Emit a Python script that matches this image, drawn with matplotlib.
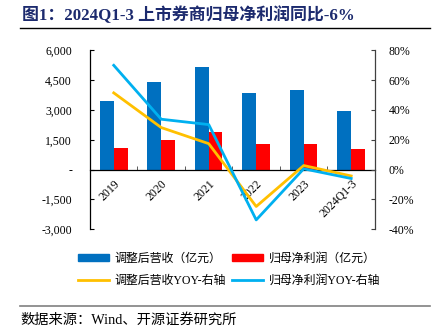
import numpy as np
import matplotlib.pyplot as plt
from matplotlib.patches import Patch
from matplotlib.lines import Line2D
from matplotlib.ticker import FuncFormatter, FixedLocator

years = ['2019', '2020', '2021', '2022', '2023', '2024Q1-3']
revenue = [3430, 4400, 5165, 3880, 4000, 2940]        # 调整后营收 (亿元)
profit = [1100, 1470, 1910, 1265, 1265, 1050]         # 归母净利润 (亿元)
revenue_yoy = [51.5, 28.2, 17.4, -24.8, 2.7, -4.3]    # %
profit_yoy = [70.0, 33.8, 30.2, -33.8, 0.5, -6.0]     # %

mixed = ['Liberation Serif', 'Noto Sans CJK SC', 'DejaVu Sans']
plt.rcParams['font.family'] = mixed

c_blue = '#0070C0'
c_red = '#FF0000'
c_yellow = '#FFC000'
c_cyan = '#00B0F0'

fig = plt.figure(figsize=(4.38, 3.34), dpi=100)
ax = fig.add_axes([0.2055, 0.314, 0.6505, 0.535])
ax2 = ax.twinx()

x = np.arange(len(years))
w = 0.29
ax.bar(x - w / 2, revenue, w, color=c_blue, zorder=2)
ax.bar(x + w / 2, profit, w, color=c_red, zorder=2)

ax2.plot(x, revenue_yoy, color=c_yellow, lw=2.0, zorder=3)
ax2.plot(x, profit_yoy, color=c_cyan, lw=2.0, zorder=4)

ax.set_xlim(-0.5, len(years) - 0.5)
ax.set_ylim(-3000, 6000)
ax.set_yticks(np.arange(-3000, 6001, 1500))
ax.yaxis.set_major_formatter(FuncFormatter(lambda v, p: '-' if v == 0 else f'{v:,.0f}'))
ax2.set_ylim(-40, 80)
ax2.set_yticks(np.arange(-40, 81, 20))
ax2.yaxis.set_major_formatter(FuncFormatter(lambda v, p: f'{v:.0f}%'))

# category axis sits on the zero line
ax.spines['bottom'].set_position(('data', 0))
ax.spines['top'].set_visible(False)
ax2.spines['top'].set_visible(False)
ax2.spines['bottom'].set_visible(False)
ax2.spines['left'].set_visible(False)
ax.spines['right'].set_visible(False)
for s in ['left', 'bottom']:
    ax.spines[s].set_color('#000000')
    ax.spines[s].set_linewidth(0.9)
ax2.spines['right'].set_color('#404040')
ax2.spines['right'].set_linewidth(0.9)

ax.set_xticks(x)
ax.set_xticklabels(years, rotation=45, ha='right', rotation_mode='anchor', fontsize=8.5)
ax.xaxis.set_minor_locator(FixedLocator(np.arange(-0.5, len(years), 1)))
ax.tick_params(axis='x', which='major', length=0, pad=6)
ax.tick_params(axis='x', which='minor', direction='in', length=3, color='#404040')
ax.tick_params(axis='y', direction='in', length=3, labelsize=8.5, pad=13)
ax2.tick_params(axis='y', direction='in', length=3, labelsize=8.5, pad=10, color='#404040')

# title and rules
fig.text(0.05, 0.953, '图1：2024Q1-3 上市券商归母净利润同比-6%', fontsize=12.2,
         fontweight='bold', color='#1C2A6E', va='center', ha='left')
fig.add_artist(Line2D([0.046, 0.982], [0.916, 0.916], color='#000000', lw=1.0))
fig.add_artist(Line2D([0.046, 0.982], [0.084, 0.084], color='#808080', lw=1.2))
fig.text(0.047, 0.042, '数据来源：Wind、开源证券研究所', fontsize=10.3, va='center', ha='left')

handles = [Patch(color=c_blue), Line2D([], [], color=c_yellow, lw=2),
           Patch(color=c_red), Line2D([], [], color=c_cyan, lw=2)]
labels = ['调整后营收（亿元）', '调整后营收YOY-右轴', '归母净利润（亿元）', '归母净利润YOY-右轴']
fig.legend(handles, labels, ncol=2, loc='center', bbox_to_anchor=(0.523, 0.192),
           frameon=False, fontsize=8.6, handlelength=2.6, handleheight=0.45,
           handletextpad=0.45, columnspacing=0.5, labelspacing=0.85)

fig.savefig('out.png', dpi=100)
